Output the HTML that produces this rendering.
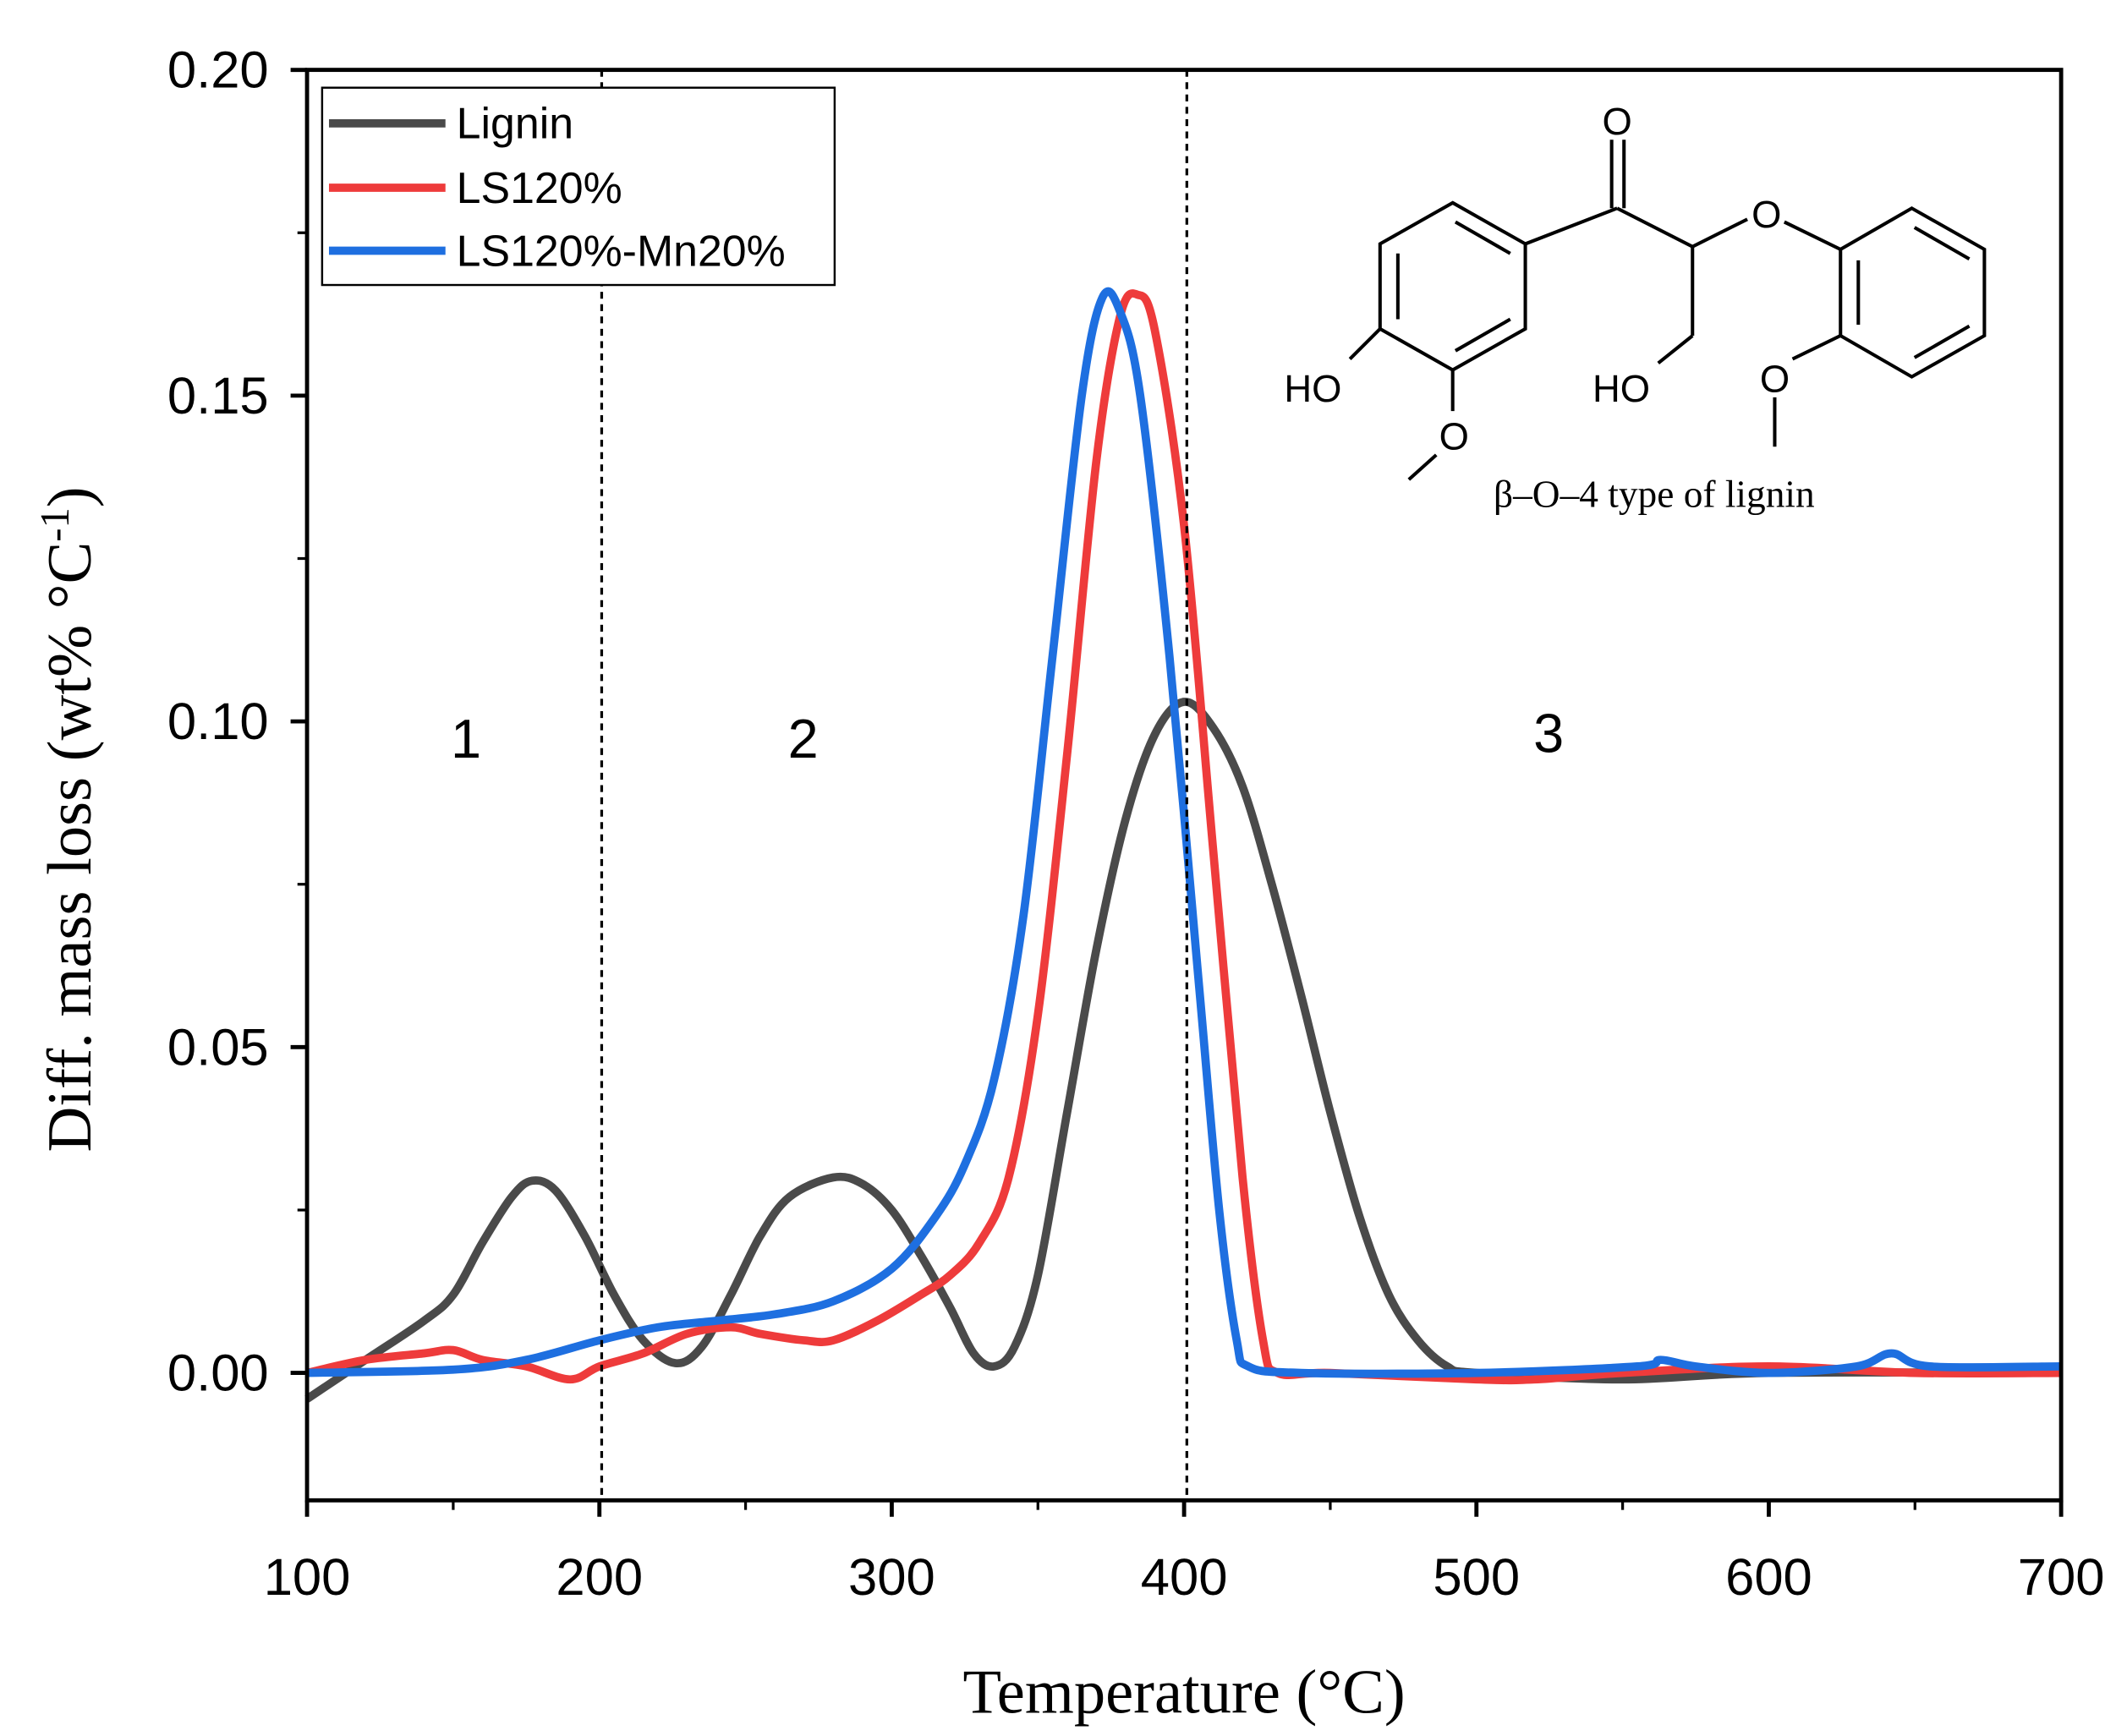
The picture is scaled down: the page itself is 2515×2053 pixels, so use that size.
<!DOCTYPE html>
<html><head><meta charset="utf-8"><style>
html,body{margin:0;padding:0;background:#fff}
svg{display:block}
</style></head><body>
<svg id="chart" width="2515" height="2053" viewBox="0 0 1552 1267" xmlns="http://www.w3.org/2000/svg">
<rect width="1552" height="1267" fill="#fff"/>
<g id="ticks"></g>
<g id="series"></g>
<line x1="439" y1="51" x2="439" y2="1095" stroke="#000" stroke-width="2" stroke-dasharray="5,4"/>
<line x1="866" y1="51" x2="866" y2="1095" stroke="#000" stroke-width="2" stroke-dasharray="5,4"/>
<rect x="224" y="51" width="1280" height="1044" fill="none" stroke="#000" stroke-width="3"/>
<g font-family="Liberation Sans, sans-serif" font-size="40" text-anchor="middle">
<text x="340" y="553">1</text>
<text x="586" y="553">2</text>
<text x="1130" y="549">3</text>
</g>
<g>
<rect x="235" y="64" width="374" height="144" fill="#fff" stroke="#000" stroke-width="1.5"/>
<line x1="240" y1="90" x2="325" y2="90" stroke="#4a4a4a" stroke-width="6"/>
<line x1="240" y1="137" x2="325" y2="137" stroke="#ee3b3b" stroke-width="6"/>
<line x1="240" y1="183" x2="325" y2="183" stroke="#1e6fe0" stroke-width="6"/>
<g font-family="Liberation Sans, sans-serif" font-size="32">
<text x="333" y="101">Lignin</text>
<text x="333" y="148">LS120%</text>
<text x="333" y="194">LS120%-Mn20%</text>
</g></g>
<g stroke="#000" stroke-width="2.5" fill="none">
<polygon points="1060,148 1113,178 1113,240 1060,270 1007,240 1007,178"/>
<line x1="1020" y1="185" x2="1020" y2="233"/><line x1="1062" y1="162" x2="1102" y2="185"/><line x1="1062" y1="256" x2="1102" y2="233"/>
<line x1="1113" y1="178" x2="1180" y2="152"/>
<line x1="1176" y1="152" x2="1176" y2="102"/><line x1="1185" y1="152" x2="1185" y2="102"/>
<line x1="1180" y1="152" x2="1235" y2="180"/>
<line x1="1235" y1="180" x2="1275" y2="160"/><line x1="1302" y1="162" x2="1343" y2="182"/>
<line x1="1235" y1="180" x2="1235" y2="245"/><line x1="1235" y1="245" x2="1210" y2="265"/>
<polygon points="1343,182 1395,152 1448,182 1448,245 1395,275 1343,245"/>
<line x1="1356" y1="190" x2="1356" y2="237"/><line x1="1397" y1="166" x2="1437" y2="189"/><line x1="1397" y1="261" x2="1437" y2="238"/>
<line x1="1343" y1="245" x2="1308" y2="262"/><line x1="1295" y1="290" x2="1295" y2="326"/>
<line x1="1007" y1="240" x2="985" y2="262"/>
<line x1="1060" y1="270" x2="1060" y2="300"/><line x1="1048" y1="332" x2="1028" y2="350"/>
</g>
<g font-family="Liberation Sans, sans-serif" font-size="28" text-anchor="middle">
<text x="1180" y="98">O</text><text x="1289" y="166">O</text><text x="1183" y="293">HO</text>
<text x="1295" y="286">O</text><text x="958" y="293">HO</text><text x="1061" y="328">O</text>
</g>
<text x="1207" y="370" font-family="Liberation Serif, serif" font-size="28" text-anchor="middle">β–O–4 type of lignin</text>
<text x="864" y="1250" font-family="Liberation Serif, serif" font-size="46" text-anchor="middle">Temperature (°C)</text>
<text transform="translate(66,598) rotate(-90)" font-family="Liberation Serif, serif" font-size="46" text-anchor="middle">Diff. mass loss (wt% °C<tspan font-size="30" dy="-16">-1</tspan><tspan dy="16">)</tspan></text>
</svg>
<script>
const xTicks=[100,200,300,400,500,600,700];
const yTicks=[0.00,0.05,0.10,0.15,0.20];
const yTickLabels=["0.00","0.05","0.10","0.15","0.20"];
const ligninT=[100,120,140,150,160,170,177,185,195,205,215,226,235,245,255,265,280,290,300,310,320,328,335,342,350,360,370,380,390,400,410,420,430,440,450,460,470,480,490,500,550,600,700];
const ligninV=[-0.004,0.002,0.008,0.012,0.020,0.027,0.0295,0.028,0.021,0.012,0.005,0.0015,0.004,0.012,0.021,0.027,0.030,0.029,0.025,0.018,0.010,0.003,0.001,0.004,0.015,0.040,0.065,0.085,0.098,0.103,0.099,0.090,0.075,0.058,0.040,0.024,0.012,0.005,0.001,0.000,-0.001,0.000,0.000];
const ls120T=[100,120,140,150,160,175,190,200,215,230,245,255,270,280,295,310,320,330,340,350,360,370,378,384,390,400,410,420,427,432,450,500,520,550,600,650,700];
const ls120V=[0,0.002,0.003,0.0035,0.002,0.001,-0.001,0.001,0.003,0.006,0.007,0.006,0.005,0.005,0.008,0.012,0.015,0.020,0.030,0.055,0.095,0.140,0.162,0.1655,0.160,0.130,0.080,0.030,0.005,0.000,0.000,-0.001,-0.001,0.000,0.001,0.000,0.000];
const mnT=[100,150,175,200,220,240,260,280,300,315,325,335,345,355,365,372,378,385,395,405,412,418,422,440,500,555,563,575,600,630,642,655,700];
const mnV=[0,0.0005,0.002,0.005,0.007,0.008,0.009,0.011,0.016,0.024,0.032,0.045,0.070,0.110,0.150,0.165,0.163,0.150,0.110,0.060,0.025,0.005,0.001,0.000,0.000,0.001,0.002,0.001,0.000,0.001,0.003,0.001,0.001];
const NS="http://www.w3.org/2000/svg";
const X=t=>224+(t-100)*1280/600;
const Y=v=>1002-v*951/0.2;
const tg=document.getElementById('ticks');
function mk(tag,attrs,parent){const e=document.createElementNS(NS,tag);for(const k in attrs)e.setAttribute(k,attrs[k]);parent.appendChild(e);return e;}
xTicks.forEach(t=>{
 const l=mk('line',{x1:X(t),x2:X(t),y1:1095,y2:1107,stroke:'#000','stroke-width':3},tg);
 
 
 const tx=mk('text',{x:X(t),y:1164,'font-family':'Liberation Sans, sans-serif','font-size':38,'text-anchor':'middle'},tg);
 tx.textContent=t;
 
 
 if(t<700){const m=mk('line',{x1:X(t+50),x2:X(t+50),y1:1095,y2:1102,stroke:'#000','stroke-width':2},tg);
 
 }
});
yTicks.forEach((v,i)=>{
 const l=mk('line',{x1:212,x2:224,y1:Y(v),y2:Y(v),stroke:'#000','stroke-width':3},tg);
 
 
 const tx=mk('text',{x:196,y:Y(v)+13,'font-family':'Liberation Sans, sans-serif','font-size':38,'text-anchor':'end'},tg);
 tx.textContent=yTickLabels[i];
 
 
 if(i>0){const m=mk('line',{x1:217,x2:224,y1:Y(v-0.025),y2:Y(v-0.025),stroke:'#000','stroke-width':2},tg);
 
 }
});
function pathD(ts,vs){
 const p=ts.map((t,i)=>[X(t),Y(vs[i])]);
 let d='M'+p[0][0]+','+p[0][1];
 for(let i=0;i<p.length-1;i++){
  const p0=p[Math.max(0,i-1)],p1=p[i],p2=p[i+1],p3=p[Math.min(p.length-1,i+2)];
  const c1=[p1[0]+(p2[0]-p0[0])/6,p1[1]+(p2[1]-p0[1])/6];
  const c2=[p2[0]-(p3[0]-p1[0])/6,p2[1]-(p3[1]-p1[1])/6];
  d+=' C'+c1+' '+c2+' '+p2;
 }
 return d;
}
const sg=document.getElementById('series');
const a=mk('path',{d:pathD(ligninT,ligninV),fill:'none',stroke:'#4a4a4a','stroke-width':6,'stroke-linejoin':'round'},sg);


const b=mk('path',{d:pathD(ls120T,ls120V),fill:'none',stroke:'#ee3b3b','stroke-width':6,'stroke-linejoin':'round'},sg);


const c=mk('path',{d:pathD(mnT,mnV),fill:'none',stroke:'#1e6fe0','stroke-width':6,'stroke-linejoin':'round'},sg);


</script>
</body></html>
